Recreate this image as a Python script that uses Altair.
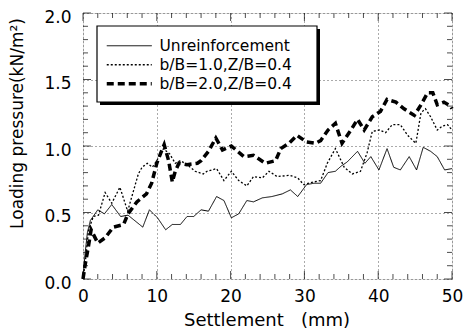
import altair as alt
import pandas as pd

series_names = ["Unreinforcement", "b/B=1.0,Z/B=0.4", "b/B=2.0,Z/B=0.4"]

unr_x = [0, 0.3, 0.6, 1.0, 2.0, 2.9, 3.9, 5.1, 6.1, 8.1, 9.0, 10.1, 11.2, 12.1, 13.2, 14.1, 15.0,
         16.0, 17.0, 18.1, 19.1, 20.1, 21.1, 22.2, 23.1, 24.3, 25.6, 27.0, 28.1, 29.1, 30.3, 31.3,
         32.2, 33.2, 34.2, 35.0, 35.8, 37.2, 38.2, 39.0, 40.1, 41.2, 42.1, 43.0, 44.2, 45.2, 46.1,
         47.1, 48.0, 49.0, 50.0]
unr_y = [0, 0.2, 0.35, 0.44, 0.52, 0.49, 0.56, 0.47, 0.48, 0.39, 0.52, 0.46, 0.37, 0.41, 0.41, 0.47, 0.47,
         0.52, 0.51, 0.62, 0.59, 0.46, 0.49, 0.59, 0.58, 0.61, 0.62, 0.64, 0.67, 0.62, 0.71, 0.72,
         0.72, 0.80, 0.81, 0.85, 0.88, 0.96, 0.87, 0.92, 0.82, 0.98, 0.84, 0.82, 0.92, 0.82, 0.99,
         0.96, 0.92, 0.82, 0.83]

b1_x = [0, 0.3, 0.76, 1.4, 2.1, 3.0, 3.9, 5.0, 6.05, 7.5, 8.0, 8.7, 9.4, 10.0, 10.9, 11.75, 12.5,
        13.2, 14.1, 15.2, 16.3, 16.8, 18.1, 19.1, 20.1, 21.1, 22.2, 23.1, 24.3, 25.2, 26.3, 28.0,
        29.1, 29.9, 31.3, 32.2, 33.1, 34.2, 35.4, 36.5, 37.6, 38.5, 39.2, 40.2, 41.0, 41.9, 43.0,
        44.0, 45.1, 45.8, 46.4, 47.1, 48.0, 48.7, 49.4, 50.0]
b1_y = [0, 0.12, 0.37, 0.47, 0.48, 0.65, 0.57, 0.69, 0.51, 0.79, 0.84, 0.87, 0.84, 0.89, 0.98, 0.94, 0.87,
        0.89, 0.86, 0.81, 0.79, 0.81, 0.83, 0.74, 0.81, 0.74, 0.70, 0.77, 0.76, 0.81, 0.77, 0.78,
        0.76, 0.71, 0.73, 0.74, 0.87, 0.98, 0.84, 0.79, 0.81, 0.95, 1.11, 1.12, 1.10, 1.16, 1.16,
        1.08, 1.02, 1.25, 1.28, 1.22, 1.12, 1.15, 1.16, 1.12]

b2_x = [0, 0.3, 0.72, 1.1, 2.0, 3.0, 4.1, 5.5, 6.1, 7.3, 8.6, 9.3, 10.0, 10.7, 11.0, 11.6, 12.1,
        12.5, 13.0, 14.1, 15.5, 16.0, 17.0, 18.0, 18.9, 20.1, 21.8, 23.1, 24.7, 26.1, 26.8, 27.9,
        29.0, 30.3, 31.5, 32.2, 33.2, 34.2, 35.1, 36.3, 37.2, 38.1, 39.2, 40.3, 41.2, 42.4, 43.5,
        44.9, 45.8, 46.7, 47.4, 48.0, 48.9, 49.8, 50.0]
b2_y = [0, 0.11, 0.24, 0.37, 0.27, 0.31, 0.39, 0.41, 0.49, 0.58, 0.64, 0.72, 0.87, 0.97, 1.01, 0.89, 0.73,
        0.81, 0.87, 0.86, 0.87, 0.89, 0.96, 1.06, 0.97, 1.00, 0.92, 0.93, 0.87, 0.89, 0.98, 1.02,
        1.08, 1.03, 1.02, 1.04, 1.12, 1.17, 1.02, 1.12, 1.20, 1.12, 1.22, 1.26, 1.35, 1.33, 1.28,
        1.23, 1.31, 1.40, 1.40, 1.31, 1.33, 1.30, 1.28]

x_major = [0, 10, 20, 30, 40, 50]
x_minor = [2, 4, 6, 8, 12, 14, 16, 18, 22, 24, 26, 28, 32, 34, 36, 38, 42, 44, 46, 48]
y_major = [0.0, 0.5, 1.0, 1.5, 2.0]
y_minor = [0.1, 0.2, 0.3, 0.4, 0.6, 0.7, 0.8, 0.9, 1.1, 1.2, 1.3, 1.4, 1.6, 1.7, 1.8, 1.9]

rows = []
for name, xs, ys in zip(series_names, [unr_x, b1_x, b2_x], [unr_y, b1_y, b2_y]):
    for i, (a, b) in enumerate(zip(xs, ys)):
        rows.append({"series": name, "s": a, "p": b, "i": i})
df = pd.DataFrame(rows)

FONT = "DejaVu Sans"
xscale = alt.Scale(domain=[0, 50], nice=False, zero=False)
yscale = alt.Scale(domain=[0, 2], nice=False, zero=False)

xaxis = alt.Axis(values=x_major, format="d", grid=True, ticks=False, domain=False,
                 gridDash=[1, 3], gridColor="#555", gridWidth=1,
                 labelFont=FONT, labelFontSize=17, labelColor="black", labelPadding=9,
                 labelFlush=False,
                 title="Settlement\u00a0\u00a0\u00a0(mm)", titleFont=FONT, titleFontSize=18,
                 titleFontWeight="normal", titleColor="black",
                 titleX=183.5, titleY=46, titleAlign="center", titleBaseline="alphabetic")
yaxis = alt.Axis(values=y_major, format=".1f", grid=True, ticks=False, domain=False,
                 gridDash=[1, 3], gridColor="#555", gridWidth=1,
                 labelFont=FONT, labelFontSize=17, labelColor="black", labelPadding=12,
                 labelFlush=False, labelOffset=4,
                 title="Loading pressure(kN/m\u00b2)", titleFont=FONT, titleFontSize=17,
                 titleFontWeight="normal", titleColor="black",
                 titleX=-66, titleY=110, titleAngle=270, titleAlign="center",
                 titleBaseline="middle")

one = pd.DataFrame({"a": [0]})

shadow = alt.Chart(one).mark_rect(color="black").encode(
    x=alt.value(17), x2=alt.value(237), y=alt.value(16), y2=alt.value(92))
box = alt.Chart(one).mark_rect(fill="white", stroke="black", strokeWidth=1.2).encode(
    x=alt.value(14), x2=alt.value(234), y=alt.value(13), y2=alt.value(89))

leg = alt.Legend(title=None, orient="none", legendX=38.5, legendY=25,
                 symbolType="M-4.5,0H4.5", symbolSize=100, symbolStrokeColor="black",
                 labelFont=FONT, labelFontSize=15.5, labelColor="black",
                 labelOffset=22.5, rowPadding=2, padding=0, labelLimit=300)

lines = alt.Chart(df).mark_line(color="black", strokeCap="butt", strokeJoin="miter").encode(
    x=alt.X("s:Q", scale=xscale, axis=xaxis),
    y=alt.Y("p:Q", scale=yscale, axis=yaxis),
    strokeDash=alt.StrokeDash("series:N",
                              scale=alt.Scale(domain=series_names, range=[[1, 0], [2, 2], [7, 4]]),
                              legend=leg),
    strokeWidth=alt.StrokeWidth("series:N",
                                scale=alt.Scale(type="ordinal", domain=series_names, range=[1, 1.3, 3.5]),
                                legend=leg),
    order="i:Q",
)

def xticks(vals, size, at, sign):
    d = pd.DataFrame({"v": vals})
    return alt.Chart(d).mark_tick(orient="vertical", size=size, thickness=1, color="black",
                                  yOffset=sign * size / 2).encode(
        x=alt.X("v:Q", scale=xscale, axis=xaxis),
        y=alt.YDatum(at, scale=yscale, axis=yaxis))

def yticks(vals, size, at, sign):
    d = pd.DataFrame({"v": vals})
    return alt.Chart(d).mark_tick(orient="horizontal", size=size, thickness=1, color="black",
                                  xOffset=sign * size / 2).encode(
        y=alt.Y("v:Q", scale=yscale, axis=yaxis),
        x=alt.XDatum(at, scale=xscale, axis=xaxis))

tick_layers = [
    xticks(x_major, 8, 0, -1), xticks(x_minor, 5, 0, -1),
    xticks(x_major, 8, 2, 1), xticks(x_minor, 5, 2, 1),
    yticks(y_major, 8, 0, 1), yticks(y_minor, 5, 0, 1),
    yticks(y_major, 8, 50, -1), yticks(y_minor, 5, 50, -1),
]

chart = alt.layer(shadow, box, lines, *tick_layers).properties(
    width=369, height=266,
    autosize=alt.AutoSizeParams(type="none"),
    padding={"left": 75, "top": 5, "right": 12, "bottom": 54},
).configure_view(stroke="black", strokeWidth=1.5).configure(background="white")

chart.save("out.html", embed_options={"renderer": "svg", "actions": False})
